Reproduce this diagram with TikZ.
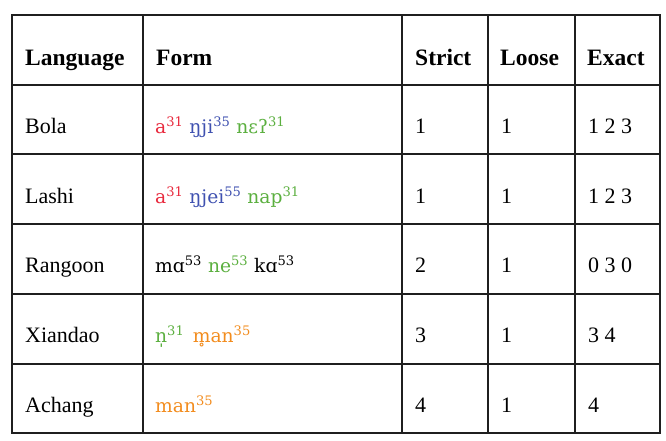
\documentclass[tikz,border=0pt]{standalone}
\usepackage{fontspec}
\setmainfont{Liberation Serif}
\newfontfamily\ipafont{DejaVu Serif}
\definecolor{formred}{HTML}{E8283C}
\definecolor{formblue}{HTML}{3F51B0}
\definecolor{formgreen}{HTML}{5BAF3F}
\definecolor{formorange}{HTML}{F28C1E}
\newcommand{\tn}[1]{\textsuperscript{#1}}
\tikzset{
  cell/.style={anchor=base west, inner sep=0pt, font=\fontsize{22}{26}\selectfont},
  head/.style={cell, font=\fontsize{23.5}{27}\selectfont\bfseries},
  form/.style={cell, font=\fontsize{18.7}{23}\selectfont\ipafont},
  rule/.style={line width=2pt, draw=black!88},
}
\begin{document}
\begin{tikzpicture}[x=1pt, y=-1pt]
    \useasboundingbox (0,0) rectangle (666,440);

    % Grid
    \draw[rule] (12,15) rectangle (660,433);
    \draw[rule] (143,15) -- (143,433);
    \draw[rule] (402,15) -- (402,433);
    \draw[rule] (488,15) -- (488,433);
    \draw[rule] (575,15) -- (575,433);
    \draw[rule] (12,85) -- (660,85);
    \draw[rule] (12,154) -- (660,154);
    \draw[rule] (12,224) -- (660,224);
    \draw[rule] (12,294) -- (660,294);
    \draw[rule] (12,364) -- (660,364);

    % Header
    \node[head] at (25, 65) (hlang) {Language};
    \node[head] at (156, 65) (hform) {Form};
    \node[head] at (415, 65) (hstrict) {Strict};
    \node[head] at (500, 65) (hloose) {Loose};
    \node[head] at (587, 65) (hexact) {Exact};

    % Bola
    \node[cell] at (25, 133) (bola) {Bola};
    \node[form] at (155, 133) (bolaform) {\textcolor{formred}{a\tn{31}} \textcolor{formblue}{ŋji\tn{35}} \textcolor{formgreen}{nɛʔ\tn{31}}};
    \node[cell] at (415, 133) (bolastrict) {1};
    \node[cell] at (501, 133) (bolaloose) {1};
    \node[cell] at (588, 133) (bolaexact) {1 2 3};

    % Lashi
    \node[cell] at (25, 203) (lashi) {Lashi};
    \node[form] at (155, 203) (lashiform) {\textcolor{formred}{a\tn{31}} \textcolor{formblue}{ŋjei\tn{55}} \textcolor{formgreen}{nap\tn{31}}};
    \node[cell] at (415, 203) (lashistrict) {1};
    \node[cell] at (501, 203) (lashiloose) {1};
    \node[cell] at (588, 203) (lashiexact) {1 2 3};

    % Rangoon
    \node[cell] at (25, 272) (rangoon) {Rangoon};
    \node[form] at (155, 272) (rangoonform) {mɑ\tn{53} \textcolor{formgreen}{ne\tn{53}} kɑ\tn{53}};
    \node[cell] at (415, 272) (rangoonstrict) {2};
    \node[cell] at (501, 272) (rangoonloose) {1};
    \node[cell] at (588, 272) (rangoonexact) {0 3 0};

    % Xiandao
    \node[cell] at (25, 342) (xiandao) {Xiandao};
    \node[form] at (155, 342) (xiandaoform) {\textcolor{formgreen}{n̩\tn{31}}\hspace{0.45em}\textcolor{formorange}{m̥an\tn{35}}};
    \node[cell] at (415, 342) (xiandaostrict) {3};
    \node[cell] at (501, 342) (xiandaoloose) {1};
    \node[cell] at (588, 342) (xiandaoexact) {3 4};

    % Achang
    \node[cell] at (25, 412) (achang) {Achang};
    \node[form] at (155, 412) (achangform) {\textcolor{formorange}{man\tn{35}}};
    \node[cell] at (415, 412) (achangstrict) {4};
    \node[cell] at (501, 412) (achangloose) {1};
    \node[cell] at (588, 412) (achangexact) {4};

  \end{tikzpicture}
\end{document}
